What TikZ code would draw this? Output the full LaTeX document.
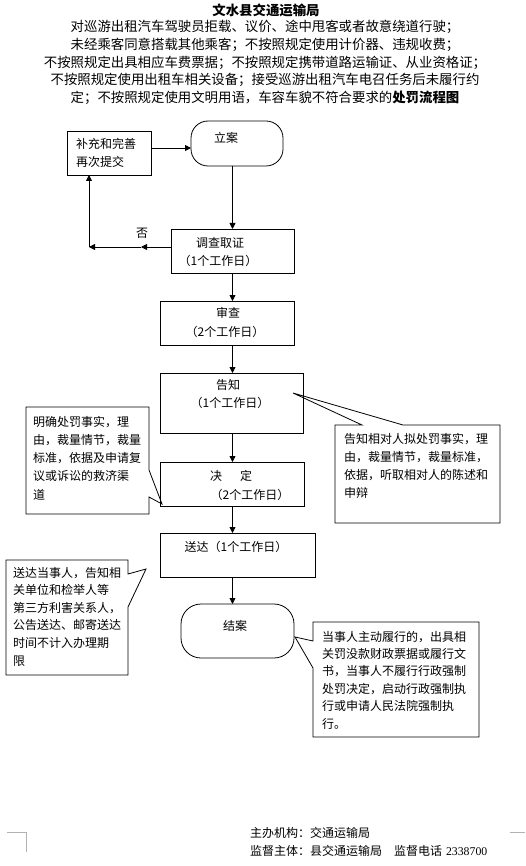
\documentclass[tikz,border=0pt]{standalone}
\usepackage{fontspec}
\setmainfont{Noto Sans CJK SC}
\newfontfamily\numfont{Liberation Serif}
\usetikzlibrary{arrows.meta}
\begin{document}
\begin{tikzpicture}[x=1pt,y=-1pt,
  every node/.style={font=\fontsize{12}{17.8}\selectfont, inner sep=0pt, outer sep=0pt},
  box/.style={draw, line width=0.8pt},
  rbox/.style={draw, line width=0.8pt, rounded corners=17pt},
  flow/.style={draw, line width=0.8pt, -{Triangle[length=6pt,width=6pt]}},
  callout/.style={draw, line width=0.8pt, line join=miter},
  ctext/.style={anchor=north west, align=left},
  cropmark/.style={draw, line width=0.8pt, color=black!30},
  ]
\path (0,0) rectangle (525,866);

% title
\node[font=\fontsize{13.4}{17.75}\selectfont\bfseries] (title) at (266,10) {文水县交通运输局};
\node[font=\fontsize{13.4}{17.75}\selectfont, align=center] (subtitle) at (265,62.5)
 {对巡游出租汽车驾驶员拒载、议价、途中甩客或者故意绕道行驶；\\
  未经乘客同意搭载其他乘客；不按照规定使用计价器、违规收费；\\
  不按照规定出具相应车费票据；不按照规定携带道路运输证、从业资格证；\\
  不按照规定使用出租车相关设备；接受巡游出租汽车电召任务后未履行约\\
  定；不按照规定使用文明用语，车容车貌不符合要求的{\bfseries 处罚流程图}};

% main boxes
\node[box, minimum width=84pt, minimum height=44pt] (bc) at (109,153) {};
\node[ctext, font=\fontsize{12}{18}\selectfont] (bct) at (76,138) {补充和完善\\再次提交};
\node[rbox, minimum width=92pt, minimum height=45pt] (lian) at (237,143.5) {};
\node (liant) at (226,138) {立案};
\node[box, minimum width=123pt, minimum height=44pt] (dc) at (232.5,251) {};
\node (dct1) at (220,243) {调查取证};
\node (dct2) at (218,261) {（1个工作日）};
\node[box, minimum width=134pt, minimum height=44pt] (sc) at (227,323) {};
\node (sct1) at (228,313) {审查};
\node (sct2) at (225,332) {（2个工作日）};
\node[box, minimum width=143pt, minimum height=60pt] (gz) at (231.5,403) {};
\node (gzt1) at (228,385) {告知};
\node (gzt2) at (230,403) {（1个工作日）};
\node[box, minimum width=144pt, minimum height=44pt] (jd) at (232,484) {};
\node (jdt1) at (231,476) {决\hspace{18pt}定};
\node (jdt2) at (250,495) {（2个工作日）};
\node[box, minimum width=155pt, minimum height=44pt] (sd) at (237.5,555) {};
\node (sdt) at (236,547) {送达（1个工作日）};
\node[rbox, rounded corners=20pt, minimum width=113pt, minimum height=54pt] (ja) at (237.5,631) {};
\node (jat) at (235,626) {结案};

% connectors
\coordinate (ya) at (0,148);
\draw[flow] (bc.east |- ya) -- (lian.west |- ya);
\draw[flow] (dc.north |- lian.south) -- (dc.north);
\draw[flow] (dc.south) -- (dc.south |- sc.north);
\draw[flow] (dc.south |- sc.south) -- (dc.south |- gz.north);
\draw[flow] (dc.south |- gz.south) -- (dc.south |- jd.north);
\draw[flow] (dc.south |- jd.south) -- (dc.south |- sd.north);
\draw[flow] (dc.south |- sd.south) -- (dc.south |- ja.north);
\coordinate (fbm) at (141,247);
\coordinate (fbc) at (89,247);
\draw[flow] (dc.west |- fbm) -- (fbm);
\draw[flow] (fbm) -- (fbc);
\draw[flow] (fbc) -- (fbc |- bc.south);
\node (no) at (142,233) {否};

% callouts
\draw[callout] (26,407) -- (149,407) -- (149,470) -- (162,504) -- (149,497) -- (149,514) -- (26,514) -- cycle;
\node[ctext, font=\fontsize{12}{18.25}\selectfont] (c1) at (33,416)
 {明确处罚事实，理\\由，裁量情节，裁量\\标准，依据及申请复\\议或诉讼的救济渠\\道};

\draw[callout] (335,425) -- (362,425) -- (293,393) -- (403,425) -- (500,425) -- (500,523) -- (335,523) -- cycle;
\node[ctext, font=\fontsize{12}{18}\selectfont] (c2) at (344,433)
 {告知相对人拟处罚事实，理\\由，裁量情节，裁量标准，\\依据，听取相对人的陈述和\\申辩};

\draw[callout] (6,560) -- (128,560) -- (128,574) -- (146,569) -- (128,607) -- (128,675) -- (6,675) -- cycle;
\node[ctext, font=\fontsize{12}{17.6}\selectfont] (c3) at (13,567)
 {送达当事人，告知相\\关单位和检举人等\\第三方利害关系人，\\公告送达、邮寄送达\\时间不计入办理期\\限};

\draw[callout] (313,622) -- (479,622) -- (479,737) -- (313,737) -- (313,668) -- (295,637) -- (313,641) -- cycle;
\node[ctext, font=\fontsize{12}{17.4}\selectfont] (c4) at (322,631)
 {当事人主动履行的，出具相\\关罚没款财政票据或履行文\\书，当事人不履行行政强制\\处罚决定，启动行政强制执\\行或申请人民法院强制执\\行。};

% footer
\node[anchor=west] (f1) at (250,833) {主办机构：交通运输局};
\node[anchor=west] (f2) at (250,851) {监督主体：县交通运输局\hspace{12pt}监督电话\hspace{4pt}{\numfont\fontsize{11.8}{14}\selectfont 2338700}};

% corner marks
\draw[cropmark] (7,832) -- (26,832) -- (26,852);
\draw[cropmark] (510,832) -- (525,832);
\end{tikzpicture}
\end{document}
